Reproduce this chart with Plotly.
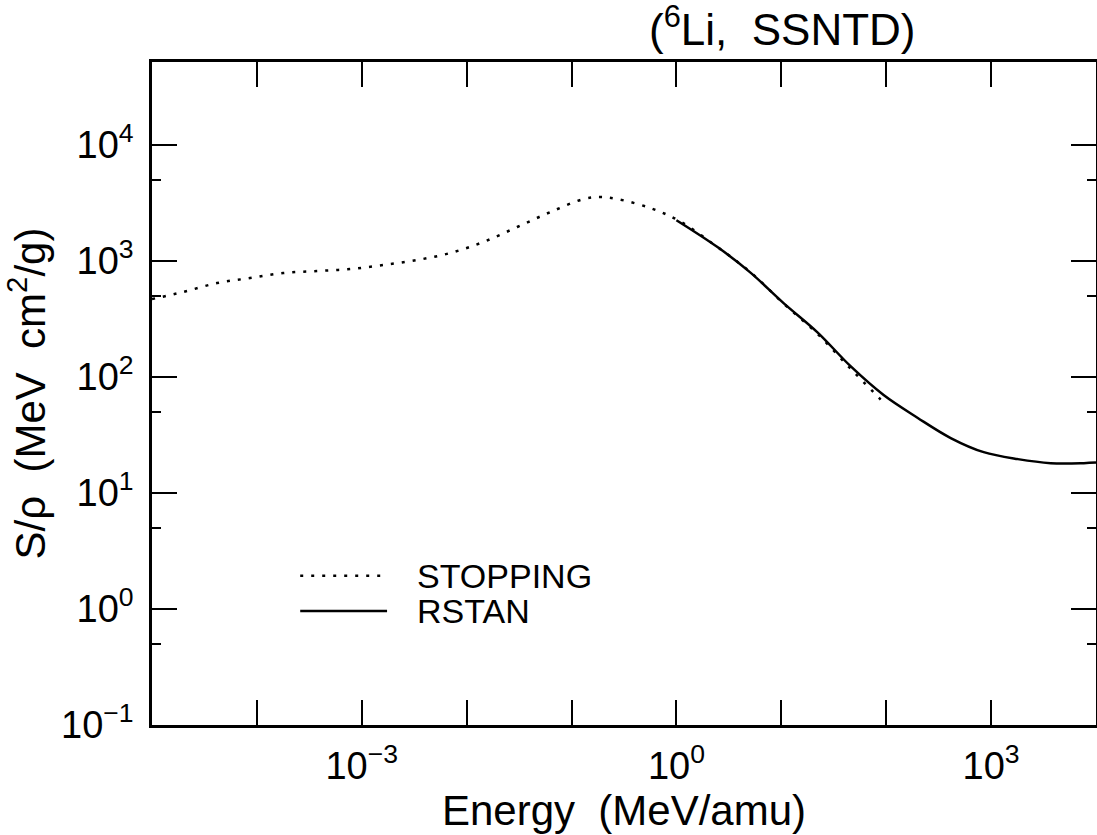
import plotly.graph_objects as go

# STOPPING (dotted) curve
stop_E = [1e-5, 1.98e-5, 4.17e-5, 8.6e-5, 1.78e-4, 3.75e-4, 7.74e-4, 1.6e-3, 3.38e-3,
          6.98e-3, 1.44e-2, 3.04e-2, 6.28e-2, 0.130, 0.188, 0.274, 0.565, 1.07, 2.46,
          5.08, 10.5, 22.1, 45.7, 88.5]
stop_S = [470, 541, 646, 713, 788, 821, 853, 924, 1021,
          1173, 1459, 1965, 2644, 3421, 3560, 3421, 2862, 2213, 1320,
          800, 430, 236, 118, 64]

# RSTAN (solid) curve
rstan_E = [1.0, 2.46, 5.08, 10.5, 22.1, 45.7, 94.4, 200, 412, 850, 1800, 3700, 7650, 10000]
rstan_S = [2250, 1320, 795, 434, 243, 124, 70, 44.4, 29.8, 22.5, 19.6, 18.1, 18.1, 18.3]

x_tickvals = [1e-5, 1e-4, 1e-3, 1e-2, 1e-1, 1e0, 1e1, 1e2, 1e3, 1e4]
x_ticktext = ["", "", "10<sup>\u22123</sup>", "", "", "10<sup>0</sup>", "", "", "10<sup>3</sup>", ""]
y_tickvals = [1e-1, 1e0, 1e1, 1e2, 1e3, 1e4]
y_ticktext = ["10<sup>\u22121</sup>", "10<sup>0</sup>", "10<sup>1</sup>", "10<sup>2</sup>",
              "10<sup>3</sup>", "10<sup>4</sup>"]
y_minorvals = [0.5, 5, 50, 500, 5000]

FONT = "Liberation Sans, Arial, sans-serif"

fig = go.Figure()
fig.add_trace(go.Scatter(x=stop_E, y=stop_S, mode="lines", name="STOPPING",
                         line=dict(color="black", width=2.5, dash="3px,8px", shape="spline"),
                         showlegend=False))
fig.add_trace(go.Scatter(x=rstan_E, y=rstan_S, mode="lines", name="RSTAN",
                         line=dict(color="black", width=2.5, shape="spline"),
                         showlegend=False))

axis_common = dict(showline=True, linecolor="black", linewidth=2.5, mirror="allticks",
                   ticks="inside", ticklen=25, tickwidth=2, tickcolor="black",
                   showgrid=False, zeroline=False, automargin=False,
                   tickfont=dict(family=FONT, size=38, color="black"))

fig.update_xaxes(type="log", range=[-5, 4], tickmode="array", tickvals=x_tickvals,
                 ticktext=x_ticktext, ticklabelstandoff=6,
                 title=dict(text="Energy\u00a0\u00a0(MeV/amu)", font=dict(family=FONT, size=42, color="black"),
                            standoff=6),
                 **axis_common)
fig.update_yaxes(type="log", range=[-1, 4.716], tickmode="array", tickvals=y_tickvals,
                 ticktext=y_ticktext, ticklabelstandoff=8,
                 minor=dict(tickvals=y_minorvals, ticks="inside", ticklen=9, tickwidth=2,
                            tickcolor="black", showgrid=False),
                 title=dict(text="S/\u03c1\u00a0\u00a0(MeV\u00a0\u00a0cm<sup>2</sup>/g)",
                            font=dict(family=FONT, size=42, color="black"), standoff=8),
                 **axis_common)

# legend drawn manually
fig.add_shape(type="line", xref="paper", yref="paper", x0=0.157, x1=0.249, y0=0.225, y1=0.225,
              line=dict(color="black", width=2.5, dash="3px,8px"))
fig.add_shape(type="line", xref="paper", yref="paper", x0=0.157, x1=0.249, y0=0.172, y1=0.172,
              line=dict(color="black", width=2.5))
fig.add_annotation(xref="paper", yref="paper", x=0.279, y=0.225, text="STOPPING", showarrow=False,
                   xanchor="left", yanchor="middle", font=dict(family=FONT, size=34, color="black"))
fig.add_annotation(xref="paper", yref="paper", x=0.279, y=0.172, text="RSTAN", showarrow=False,
                   xanchor="left", yanchor="middle", font=dict(family=FONT, size=34, color="black"))

# title
fig.add_annotation(xref="paper", yref="paper", x=0.668, y=1.054,
                   text="(<sup>6</sup>Li,\u00a0\u00a0SSNTD)", showarrow=False,
                   xanchor="center", yanchor="middle", font=dict(family=FONT, size=44, color="black"))

fig.update_layout(width=1097, height=835, margin=dict(l=152, r=1, t=62, b=110, autoexpand=False),
                  plot_bgcolor="white", paper_bgcolor="white", showlegend=False)

fig.write_html("out.html", config={"displayModeBar": False},
               post_script="document.body.style.margin='0';document.body.style.overflow='hidden';")
